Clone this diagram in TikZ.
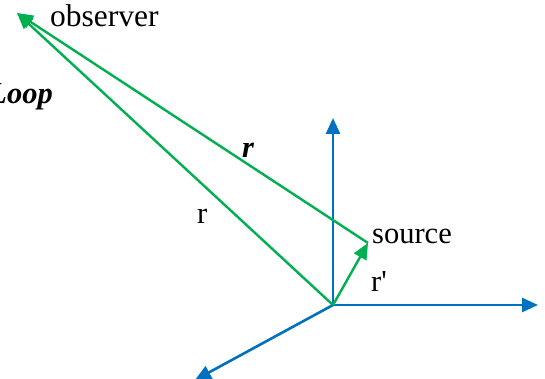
\documentclass[tikz,border=0pt]{standalone}
\usepackage{fontspec}
\setmainfont{Liberation Serif}
\usetikzlibrary{arrows.meta}
\definecolor{vgreen}{HTML}{00B050}
\definecolor{axblue}{HTML}{0070C0}
\tikzset{
  vec/.style={draw=vgreen, line width=2.4pt, -{Triangle[length=16pt,width=14pt]}},
  axis/.style={draw=axblue, line width=2.6pt, -{Triangle[length=16pt,width=14pt]}},
  lbl/.style={inner sep=0pt, font=\fontsize{30.5}{36}\selectfont}
}
\begin{document}
\begin{tikzpicture}[x=1pt,y=-1pt]
\useasboundingbox (0,0) rectangle (545,379);
\coordinate (O) at (333,305);
\coordinate (src) at (368,243);
\coordinate (obs) at (17,13);
\coordinate (xe) at (538,305);
\coordinate (ye) at (333,118);
\coordinate (ze) at (195,380);
\draw[axis] (O) -- (xe);
\draw[axis] (O) -- (ye);
\draw[axis] (O) -- (ze);
\draw[vec] (O) -- (obs);
\draw[vec] (src) -- (obs);
\draw[vec] (O) -- (src);
\node[lbl, anchor=base west, font=\fontsize{31.5}{36}\selectfont] (tobs) at (50,27) {observer};
\node[lbl, anchor=base west] (tsrc) at (372,243) {source};
\node[lbl, anchor=base west] (trp) at (371,291) {r\textquotesingle};
\node[lbl, anchor=base west] (tr) at (197,223) {r};
\node[lbl, anchor=base east] (tloop) at (53,104) {\bfseries\itshape Loop};
\node[lbl, anchor=base] (tscr) at (248,158) {\bfseries\itshape r};
\end{tikzpicture}
\end{document}
